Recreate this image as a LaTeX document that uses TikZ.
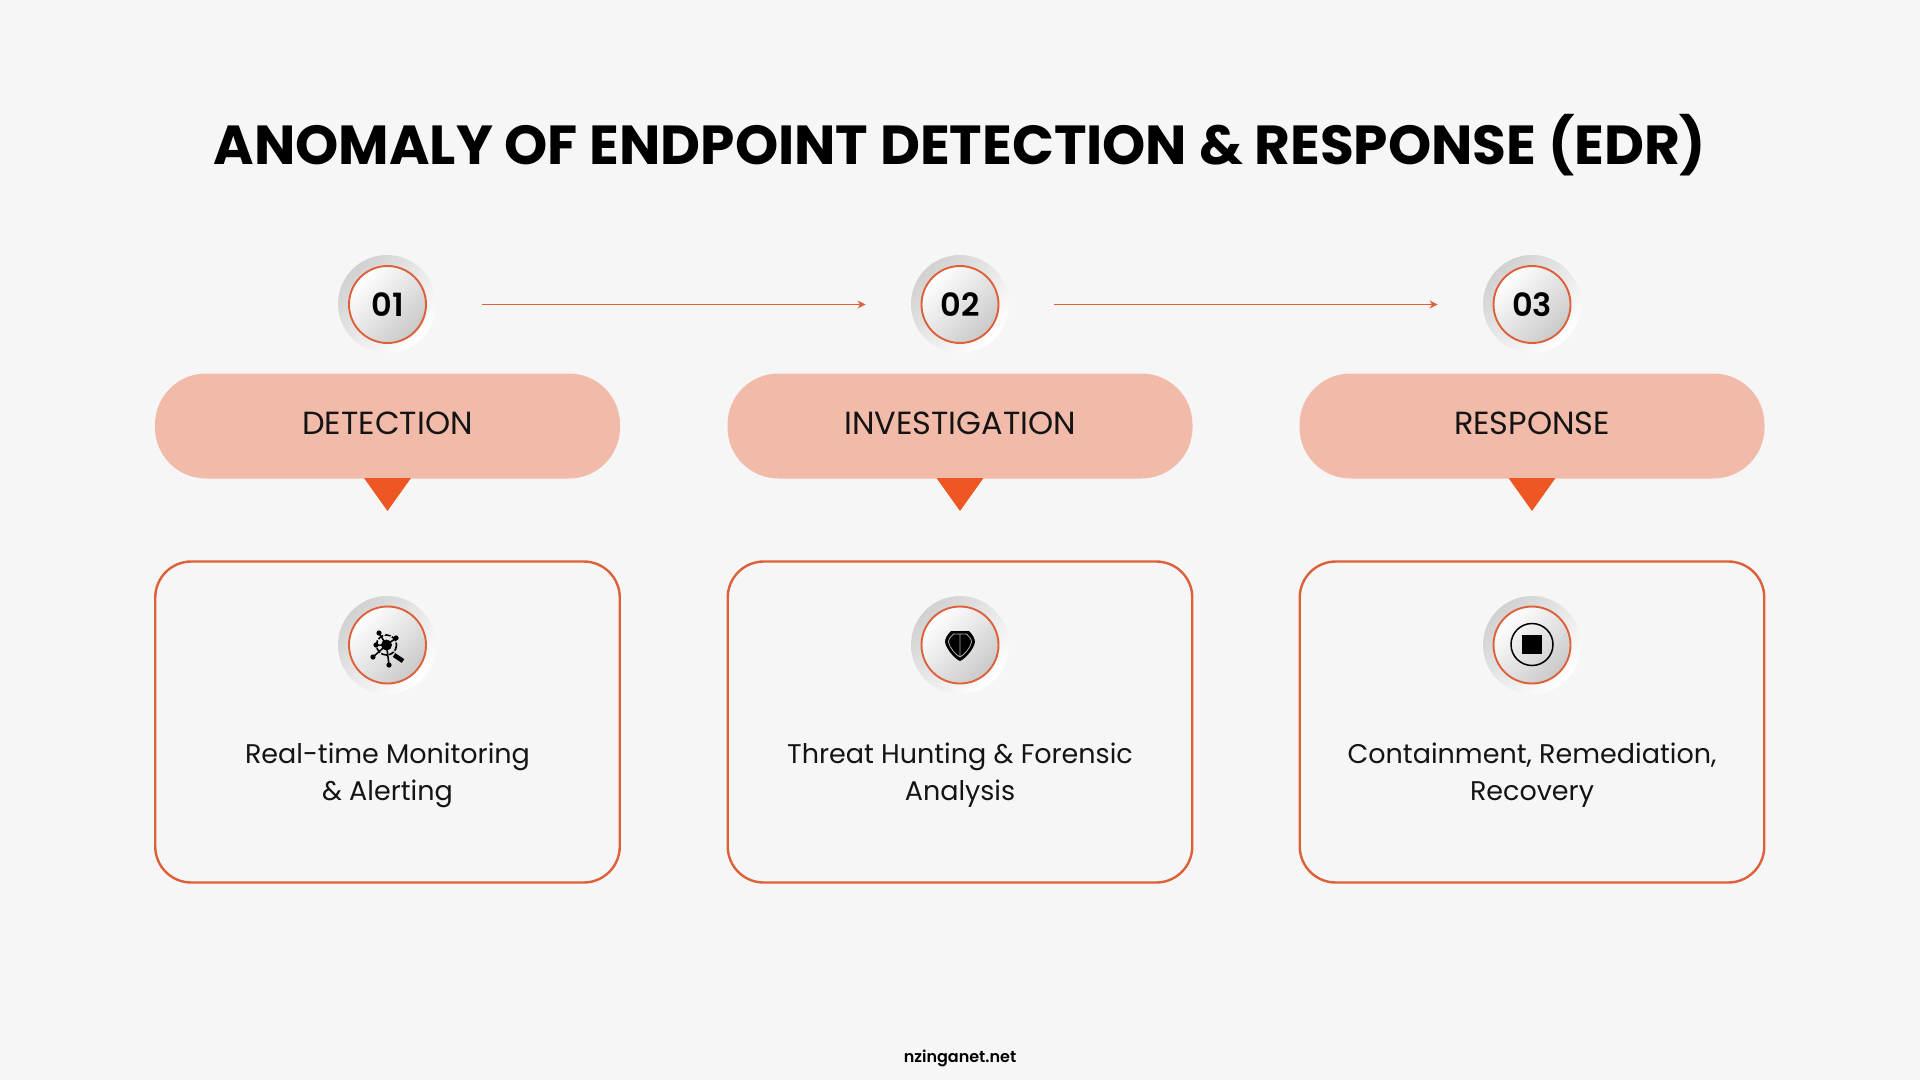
\documentclass[tikz,border=0pt]{standalone}
\usepackage{fontspec}
\setmainfont{Poppins}
\newfontfamily\popsemi{Poppins SemiBold}
\usetikzlibrary{positioning, arrows.meta, shapes.misc}
\definecolor{edrback}{HTML}{F6F6F6}
\definecolor{edrorange}{HTML}{EE5723}
\definecolor{edrline}{HTML}{DE6039}
\definecolor{edrpill}{HTML}{F2BBA9}
\tikzset{
    outerdisc/.style={circle, inner sep=0pt, minimum size=98pt, left color=gray!36, right color=white, shading angle=45},
    ringdisc/.style={circle, inner sep=0pt, minimum size=77pt, draw=edrline, line width=1.9pt, left color=white, right color=gray!42, shading angle=45, font=\fontsize{32}{32}\popsemi, text=black},
    pillbox/.style={rectangle, minimum width=465pt, minimum height=105pt, rounded corners=51pt, fill=edrpill, font=\fontsize{32}{32}\selectfont, text height=26pt, text depth=9.5pt, text=black!92},
    tipmark/.style={fill=edrorange},
    cardbox/.style={rectangle, minimum width=464.5pt, minimum height=321pt, rounded corners=36pt, draw=edrline, line width=2.4pt},
    cardtext/.style={align=center, font=\fontsize{27}{37}\selectfont, text=black!92},
    steparrow/.style={edrline, line width=1pt, -{Stealth[length=8pt, width=8pt]}, shorten <=55pt, shorten >=55pt}
}
\begin{document}
\begin{tikzpicture}[x=1pt, y=-1pt]
    \fill [edrback] (0,0) rectangle (1920,1080);
    \useasboundingbox (0,0) rectangle (1920,1080);

    \node (title) [font=\fontsize{55}{55}\selectfont\bfseries, text=black] at (960,145) {ANOMALY OF ENDPOINT DETECTION \& RESPONSE (EDR)};

    % numbered circles
    \node (O1) [outerdisc] at (387,304) {};
    \node (O2) [outerdisc] at (960,304) {};
    \node (O3) [outerdisc] at (1532,304) {};
    \node (S1) [ringdisc] at (387.5,304.5) {01};
    \node (S2) [ringdisc] at (960,304.5) {02};
    \node (S3) [ringdisc] at (1532,304.5) {03};

    \draw [steparrow] (S1) -- (S2);
    \draw [steparrow] (S2) -- (S3);

    % headings
    \node (P1) [pillbox] at (387.5,426) {DETECTION};
    \node (P2) [pillbox] at (960,426) {INVESTIGATION};
    \node (P3) [pillbox] at (1532,426) {RESPONSE};

    \fill [tipmark] (364,478) -- (411,478) -- (387.5,511) -- cycle;
    \fill [tipmark] (936.5,478) -- (983.5,478) -- (960,511) -- cycle;
    \fill [tipmark] (1508.5,478) -- (1555.5,478) -- (1532,511) -- cycle;

    % cards
    \node (C1) [cardbox] at (387.5,722) {};
    \node (C2) [cardbox] at (960,722) {};
    \node (C3) [cardbox] at (1532,722) {};

    \node (O4) [outerdisc] at (387,645) {};
    \node (O5) [outerdisc] at (960,645) {};
    \node (O6) [outerdisc] at (1532,645) {};
    \node (R1) [ringdisc] at (387.5,645) {};
    \node (R2) [ringdisc] at (960,645) {};
    \node (R3) [ringdisc] at (1532,645) {};

    % network icon
    \begin{scope}[shift={(388,645)}, black]
        \fill (-1.5,0) circle (5.5);
        \draw [line width=1.6pt, dash pattern=on 6pt off 1.5pt] (-1.5,0) circle (10);
        \draw [line width=1.5pt] (-1.5,0) -- (-9,-12) (-1.5,0) -- (8,-7) (-1.5,0) -- (-12,0) (-1.5,0) -- (-15,12) (-1.5,0) -- (1,20);
        \fill (-9,-12) circle (2.6) (8,-7) circle (2.6) (-12,0) circle (2.6) (-15,12) circle (2.6) (1,20) circle (2.6);
        \draw [line width=4.5pt] (6,10) -- (15,16);
    \end{scope}

    % shield icon
    \begin{scope}[shift={(960,645)}]
        \fill [black] (-9,-14) -- (9,-14) .. controls (12,-11) and (15,-7) .. (15,-3) .. controls (14,4) and (5,14) .. (0,16) .. controls (-5,14) and (-14,4) .. (-15,-3) .. controls (-15,-7) and (-12,-11) .. (-9,-14) -- cycle;
        \draw [gray!60, line width=0.8pt] (-6.5,-11) -- (6.5,-11) .. controls (9,-9) and (11.5,-6) .. (11.5,-3) .. controls (10.5,3) and (4,10) .. (0,12) .. controls (-4,10) and (-10.5,3) .. (-11.5,-3) .. controls (-11.5,-6) and (-9,-9) .. (-6.5,-11) -- cycle (0,-11) -- (0,12);
    \end{scope}

    % stop icon
    \begin{scope}[shift={(1532,644.5)}, black]
        \draw [line width=1.5pt] (0,0) circle (21);
        \fill (-9.75,-9.75) rectangle (9.75,9.75);
    \end{scope}

    \node (T1) [cardtext] at (387.5,775.5) {Real-time Monitoring\\\& Alerting};
    \node (T2) [cardtext] at (960,775.5) {Threat Hunting \& Forensic\\Analysis};
    \node (T3) [cardtext] at (1532,775.5) {Containment, Remediation,\\Recovery};

    \node (site) [font=\fontsize{16}{16}\popsemi, text=black] at (960,1058) {nzinganet.net};
\end{tikzpicture}
\end{document}
